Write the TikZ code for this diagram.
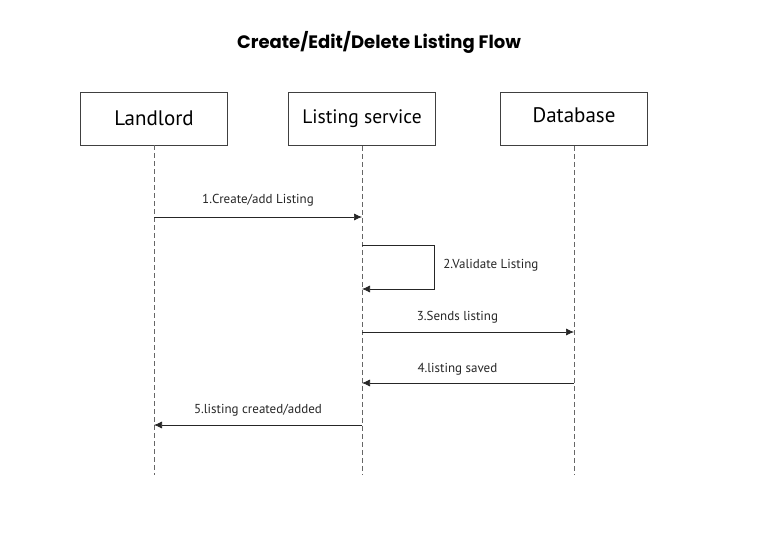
\documentclass[tikz,border=0pt]{standalone}
\usepackage{fontspec}
\setmainfont{PT Sans}
\newfontfamily\titlefont{Poppins}
\usetikzlibrary{arrows.meta}

\tikzset{
  actor/.style={draw=black!75, line width=0.8pt, minimum width=147pt, minimum height=53pt, inner sep=0pt},
  life/.style={black!60, line width=0.7pt, dash pattern=on 5pt off 3pt},
  msg/.style={->, black!85, line width=0.7pt},
  lbl/.style={inner sep=0pt, font=\fontsize{13}{15}\selectfont}
}

\begin{document}
\begin{tikzpicture}[x=1pt, y=-1pt, >={Latex[length=8pt,width=7pt]}]

\useasboundingbox (0,0) rectangle (759,539);

%\draw[step=50,gray!30] (0,0) grid (759,539);

\node[font=\titlefont\bfseries\fontsize{18}{21}\selectfont] (title) at (379,42) {Create/Edit/Delete Listing Flow};

% the three actors
\node[actor, font=\fontsize{21}{24}\selectfont] (landlord) at (154,118.5) {Landlord};
\node[actor, font=\fontsize{19.5}{22}\selectfont] (service) at (362,119) {Listing service};
\node[actor, font=\fontsize{21}{24}\selectfont, text depth=7pt] (database) at (574,119) {Database};

% lifelines
\coordinate (bottom) at (0,475);
\draw[life] (landlord.south) -- (landlord |- bottom);
\draw[life] (service.south) -- (service |- bottom);
\draw[life] (database.south) -- (database |- bottom);

% message heights
\coordinate (m1) at (0,217);
\coordinate (m2a) at (0,245);
\coordinate (m2b) at (0,289);
\coordinate (m3) at (0,332);
\coordinate (m4) at (0,383);
\coordinate (m5) at (0,425);
\coordinate (loop) at (434,0);

\draw[msg] (landlord |- m1) -- node[lbl, above=10pt]{1.Create/add Listing} (service |- m1);

\draw[msg] (service |- m2a) -- (loop |- m2a) -- node[lbl, right=9pt, pos=0.45]{2.Validate Listing} (loop |- m2b) -- (service |- m2b);

\draw[msg] (service |- m3) -- node[lbl, above=8pt, pos=0.45]{3.Sends listing} (database |- m3);

\draw[msg] (database |- m4) -- node[lbl, above=7pt, pos=0.55]{4.listing saved} (service |- m4);

\draw[msg] (service |- m5) -- node[lbl, above=8pt]{5.listing created/added} (landlord |- m5);

\end{tikzpicture}
\end{document}
